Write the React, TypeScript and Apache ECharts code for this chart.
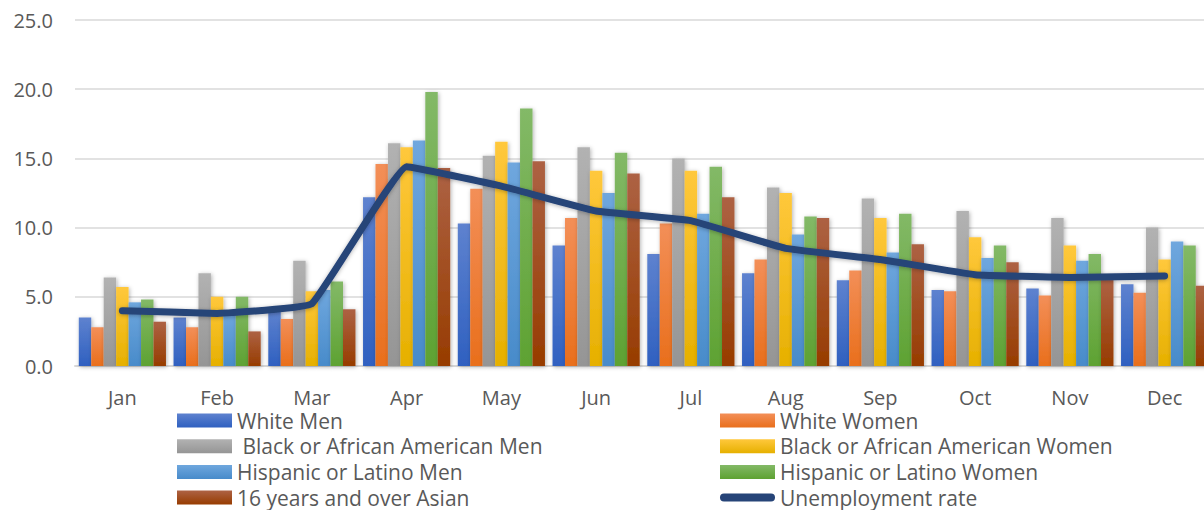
import React, { useEffect, useRef } from "react";
import * as echarts from "echarts";

const months = ["Jan", "Feb", "Mar", "Apr", "May", "Jun", "Jul", "Aug", "Sep", "Oct", "Nov", "Dec"];
const yTicks = [0, 5, 10, 15, 20, 25];

const whiteMen = [3.5, 3.5, 4.0, 12.2, 10.3, 8.7, 8.1, 6.7, 6.2, 5.5, 5.6, 5.9];
const whiteWomen = [2.8, 2.8, 3.4, 14.6, 12.8, 10.7, 10.3, 7.7, 6.9, 5.4, 5.1, 5.3];
const blackMen = [6.4, 6.7, 7.6, 16.1, 15.2, 15.8, 15.0, 12.9, 12.1, 11.2, 10.7, 10.0];
const blackWomen = [5.7, 5.0, 5.4, 15.8, 16.2, 14.1, 14.1, 12.5, 10.7, 9.3, 8.7, 7.7];
const hispanicMen = [4.6, 3.8, 5.5, 16.3, 14.7, 12.5, 11.0, 9.5, 8.2, 7.8, 7.6, 9.0];
const hispanicWomen = [4.8, 5.0, 6.1, 19.8, 18.6, 15.4, 14.4, 10.8, 11.0, 8.7, 8.1, 8.7];
const asian = [3.2, 2.5, 4.1, 14.3, 14.8, 13.9, 12.2, 10.7, 8.8, 7.5, 6.3, 5.8];
const unemploymentRate = [4.0, 3.8, 4.5, 14.4, 13.0, 11.2, 10.5, 8.5, 7.7, 6.6, 6.4, 6.5];

const barNames = [
  "White Men",
  "White Women",
  " Black or African American Men",
  "Black or African American Women",
  "Hispanic or Latino Men",
  "Hispanic or Latino Women",
  "16 years and over Asian",
];
const lineName = "Unemployment rate";
const barData = [whiteMen, whiteWomen, blackMen, blackWomen, hispanicMen, hispanicWomen, asian];
const barColors: [string, string][] = [
  ["#5e82cf", "#2f60c0"],
  ["#f38f58", "#e96f1c"],
  ["#b2b2b2", "#959595"],
  ["#ffc83c", "#e6b000"],
  ["#6fa7de", "#488bca"],
  ["#83b967", "#5ea232"],
  ["#ad6244", "#973c00"],
];
// legend layout: [name, column, row]
const legendLayout: [string, number, number][] = [
  [barNames[0], 0, 0],
  [barNames[1], 1, 0],
  [barNames[2], 0, 1],
  [barNames[3], 1, 1],
  [barNames[4], 0, 2],
  [barNames[5], 1, 2],
  [barNames[6], 0, 3],
  [lineName, 1, 3],
];

const FONT = "Open Sans";
const TEXT = "#595959";

export default function App() {
  const ref = useRef<HTMLDivElement>(null);
  useEffect(() => {
    if (!ref.current) return;
    const chart = echarts.init(ref.current, undefined, { renderer: "svg" });
    const bars = barNames.map((name, i) => ({
      name,
      type: "bar",
      data: barData[i],
      barGap: "0%",
      barCategoryGap: "8%",
      itemStyle: {
        color: new echarts.graphic.LinearGradient(0, 0, 0, 1, [
          { offset: 0, color: barColors[i][0] },
          { offset: 1, color: barColors[i][1] },
        ]),
        shadowBlur: 4,
        shadowColor: "rgba(0,0,0,0.3)",
        shadowOffsetX: 1,
        shadowOffsetY: 1,
      },
    }));
    const legends = legendLayout.map(([name, col, row]) => {
      const isLine = name === lineName;
      return {
        orient: "horizontal",
        left: col === 0 ? 177 : 720,
        top: 410 + row * 25.7,
        padding: 0,
        itemWidth: 55,
        itemHeight: isLine ? 8 : 14,
        itemTextGap: 3,
        textStyle: { color: TEXT, fontSize: 21, fontFamily: FONT, lineHeight: 20 },
        data: [
          isLine
            ? { name, icon: "path://M4,0 L51,0 A4,4 0 0 1 51,8 L4,8 A4,4 0 0 1 4,0 Z" }
            : { name, icon: "rect" },
        ],
      };
    });
    const option: any = {
      animation: false,
      grid: { left: 75, right: -8, top: 20, bottom: 144, containLabel: false, outerBoundsMode: "none" },
      xAxis: {
        type: "category",
        data: months,
        axisLine: { show: true, lineStyle: { color: "#d9d9d9", width: 2 } },
        axisTick: { show: false },
        axisLabel: { color: TEXT, fontSize: 20, fontFamily: FONT, margin: 22, lineHeight: 18 },
      },
      yAxis: {
        type: "value",
        min: yTicks[0],
        max: yTicks[yTicks.length - 1],
        interval: 5,
        axisLine: { show: false },
        axisTick: { show: false },
        splitLine: { lineStyle: { color: "#d9d9d9", width: 1.5 } },
        axisLabel: {
          color: TEXT,
          fontSize: 20,
          fontFamily: FONT,
          margin: 22,
          formatter: (v: number) => v.toFixed(1),
        },
      },
      legend: legends,
      series: [
        ...bars,
        {
          name: lineName,
          type: "line",
          data: unemploymentRate,
          symbol: "none",
          smooth: 0.08,
          z: 5,
          lineStyle: {
            color: "#264478",
            width: 7,
            cap: "round",
            join: "round",
            shadowBlur: 4,
            shadowColor: "rgba(0,0,0,0.3)",
            shadowOffsetY: 1,
          },
          itemStyle: { color: "#264478" },
        },
      ],
    };
    chart.setOption(option);
    return () => chart.dispose();
  }, []);
  return (
    <div
      ref={ref}
      style={{ position: "absolute", left: 0, top: 0, width: 1204, height: 510, background: "#fff" }}
    />
  );
}
